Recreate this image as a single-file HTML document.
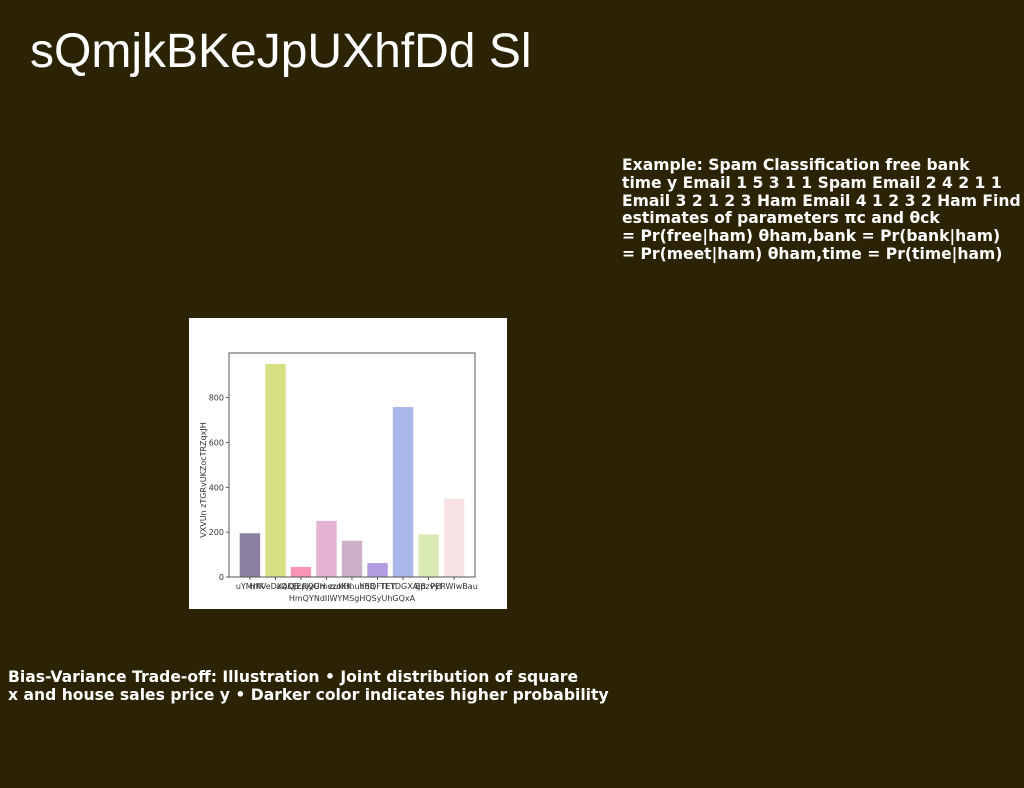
<!DOCTYPE html>
<html><head><meta charset="utf-8"><style>
body{margin:0;width:1024px;height:788px;background:#2b2303;position:relative;overflow:hidden;font-family:"Liberation Sans",sans-serif}
#title{position:absolute;left:30px;top:24px;font-size:48px;color:#fff;white-space:nowrap}
.txt{position:absolute;color:#fff;font-family:"DejaVu Sans",sans-serif;font-weight:bold;font-size:15.6px;line-height:17.8px;white-space:nowrap}
#chart{position:absolute;left:189px;top:318px;width:318px;height:291px;background:#fff}
</style></head><body>
<div id="title">sQmjkBKeJpUXhfDd Sl</div>
<div class="txt" style="left:622px;top:157px">Example: Spam Classification free bank<br>time y Email 1 5 3 1 1 Spam Email 2 4 2 1 1<br>Email 3 2 1 2 3 Ham Email 4 1 2 3 2 Ham Find<br>estimates of parameters πc and θck<br>= Pr(free|ham) θham,bank = Pr(bank|ham)<br>= Pr(meet|ham) θham,time = Pr(time|ham)</div>
<div class="txt" style="left:8px;top:669px">Bias-Variance Trade-off: Illustration • Joint distribution of square<br>x and house sales price y • Darker color indicates higher probability</div>
<div id="chart">
<svg id="svg" width="318" height="291" xmlns="http://www.w3.org/2000/svg"></svg>
</div>
<script>
const categories=["uYMrfK","HKVeDXAQJE","aQKEcRQUH","pjyGmezoKK","zuKHnuYhB","hBQFTEY","TETDGXAJB","Bpzvyt","PERWIwBau"];
const values=[195,950,45,250,162,62,758,190,350];
const colors=["#8b7ea3","#d8e084","#f794b8","#e5b3d2","#cdb1cb","#b39be2","#abb8ec","#d9eab5","#f7e3e3"];
const yTicks=[0,200,400,600,800];
const NS="http://www.w3.org/2000/svg";
const svg=document.getElementById('svg');
const L=40,R=286,T=35,B=259,ymax=999;
const xmin=-0.82,xmax=categories.length-1+0.82;
const y=v=>B-(v/ymax)*(B-T);
const x=i=>L+(i-xmin)/(xmax-xmin)*(R-L);
const step=(R-L)/(xmax-xmin);
function mk(t,a){const e=document.createElementNS(NS,t);for(const k in a)e.setAttribute(k,a[k]);svg.appendChild(e);return e;}
categories.forEach((c,i)=>{
const r=mk('rect',{x:x(i)-step*0.4,y:y(values[i]),width:step*0.8,height:B-y(values[i]),fill:colors[i]});


const t=mk('text',{x:x(i),y:B+12,'font-size':'8','text-anchor':'middle',fill:'#333','font-family':'DejaVu Sans, sans-serif'});
t.textContent=c;


mk('line',{x1:x(i),x2:x(i),y1:B,y2:B+3,stroke:'#333','stroke-width':0.8});
});
yTicks.forEach(v=>{
mk('line',{x1:L-3,x2:L,y1:y(v),y2:y(v),stroke:'#333','stroke-width':0.8});
const t=mk('text',{x:L-5,y:y(v)+3,'font-size':'8','text-anchor':'end',fill:'#333','font-family':'DejaVu Sans, sans-serif'});
t.textContent=v;


});
const fr=mk('rect',{x:L,y:T,width:R-L,height:B-T,fill:'none',stroke:'#555','stroke-width':1});


const xl=mk('text',{x:(L+R)/2,y:B+24,'font-size':'8','text-anchor':'middle',fill:'#333','font-family':'DejaVu Sans, sans-serif'});
xl.textContent='HmQYNdIlWYMSgHQSyUhGQxA';


const yl=mk('text',{x:0,y:0,'font-size':'8','text-anchor':'middle',fill:'#333','font-family':'DejaVu Sans, sans-serif',transform:`translate(17,${(T+B)/2+15}) rotate(-90)`});
yl.textContent='VXVUn zTGRvUKZocTRZqxJH';


</script>
</body></html>
